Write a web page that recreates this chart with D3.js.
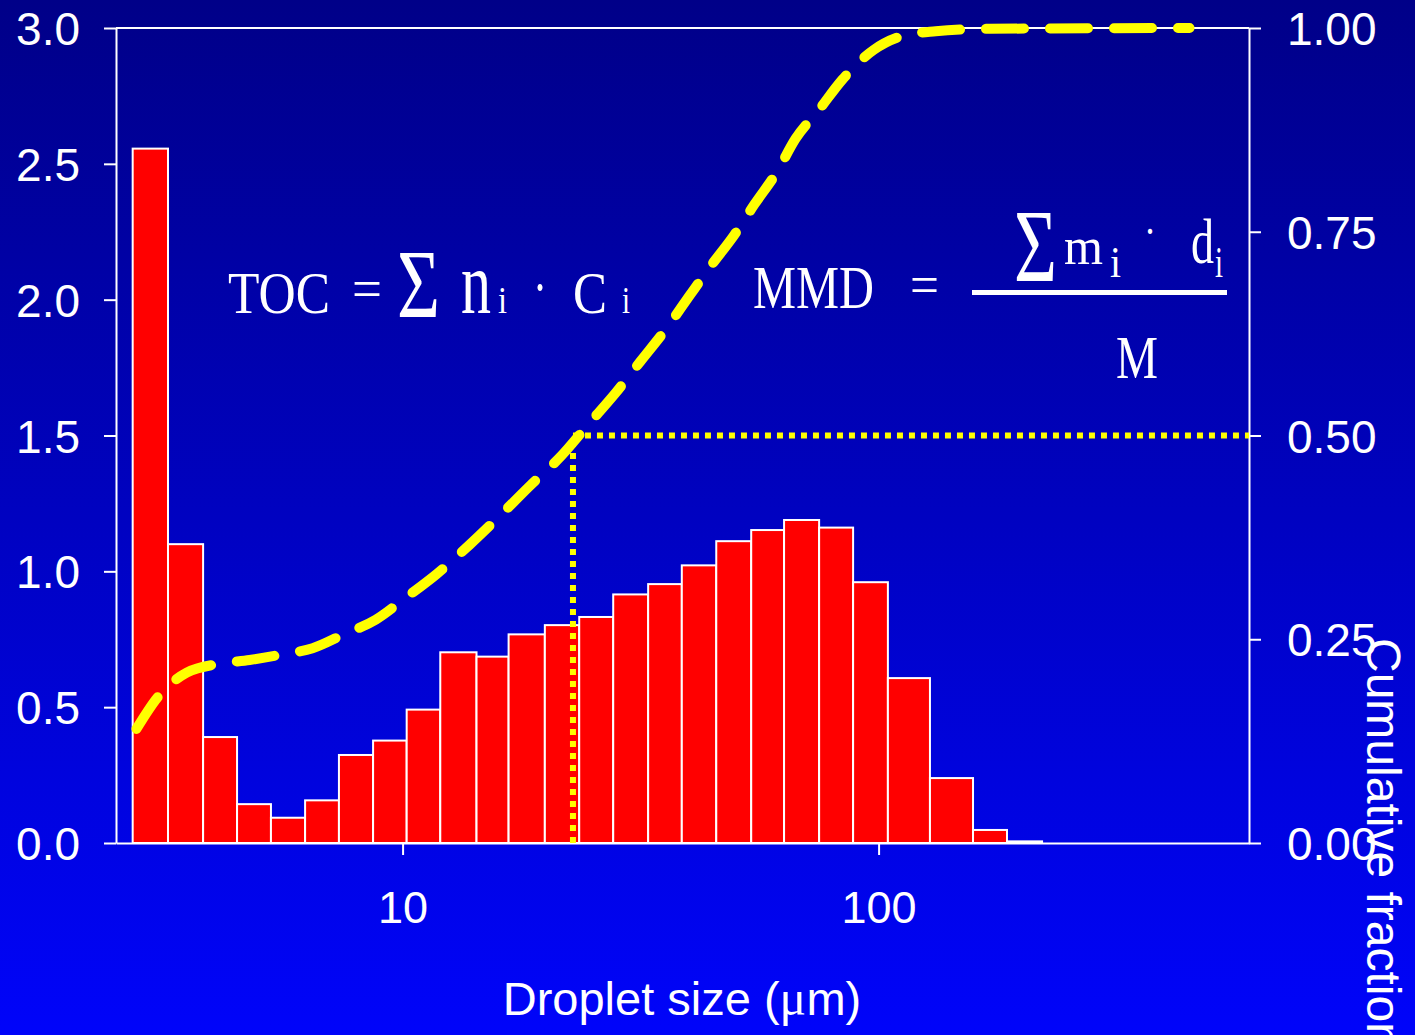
<!DOCTYPE html>
<html>
<head>
<meta charset="utf-8">
<script src="https://cdn.jsdelivr.net/npm/d3@7"></script>
<style>
  html, body { margin: 0; padding: 0; overflow: hidden; background: #0000c0; }
  svg { display: block; }
</style>
</head>
<body>
<svg id="chart" width="1415" height="1035"></svg>
<script>
// Histogram of droplet sizes: bin edges in µm and bar heights
const binEdges = [2.71, 3.215, 3.81, 4.49, 5.29, 6.24, 7.35, 8.67, 10.2, 12.0, 14.3, 16.7, 19.9,
                  23.5, 27.7, 32.8, 38.6, 45.6, 54.0, 63.3, 75.0, 88.4, 104.6, 128.2, 157.9, 186.1, 220.5];
const binHeights = [2.556, 1.10, 0.39, 0.143, 0.093, 0.157, 0.324, 0.377, 0.491, 0.702, 0.686, 0.768, 0.802,
                    0.832, 0.915, 0.953, 1.022, 1.111, 1.152, 1.189, 1.161, 0.960, 0.607, 0.239, 0.048, 0.006];

// Cumulative mass fraction against droplet size
const cumSize = [2.76, 3.06, 3.52, 4.13, 4.77, 5.54, 6.47, 7.52, 8.78, 10.15, 11.79, 13.83, 15.91, 18.57,
                 21.47, 24.59, 28.0, 31.6, 35.9, 39.9, 44.4, 49.6, 54.9, 61.1, 66.9, 74.8, 84.0, 97.6,
                 113.4, 131.8, 171, 450];
const cumFraction = [0.140, 0.179, 0.209, 0.220, 0.2245, 0.231, 0.239, 0.256, 0.274, 0.301, 0.330, 0.366,
                     0.400, 0.439, 0.474, 0.514, 0.552, 0.591, 0.632, 0.670, 0.708, 0.745, 0.784, 0.823,
                     0.864, 0.899, 0.937, 0.973, 0.991, 0.996, 0.999, 1.0];

// Mass median diameter (µm) where the cumulative fraction reaches one half
const mmdSize = 22.8;
const mmdFraction = 0.5;

const leftTicks = [0, 0.5, 1.0, 1.5, 2.0, 2.5, 3.0];
const rightTicks = [0, 0.25, 0.5, 0.75, 1.0];
const xTicks = [10, 100];

const xTitle = "Droplet size (";
const xTitleUnit = "μ";
const xTitleEnd = "m)";
const rightTitle = "Cumulative fraction";

const W = 1415, H = 1035;
const plot = { left: 116, right: 1249, top: 28, bottom: 843 };
const sans = "'Liberation Sans', Arial, Helvetica, sans-serif";
const serif = "'Liberation Serif', 'Times New Roman', Times, serif";

const svg = d3.select("#chart");

// background gradient
const defs = svg.append("defs");
const grad = defs.append("linearGradient").attr("id", "bg")
  .attr("x1", 0).attr("y1", 0).attr("x2", 0).attr("y2", 1);
grad.append("stop").attr("offset", "0%").attr("stop-color", "#000088");
grad.append("stop").attr("offset", "100%").attr("stop-color", "#0004fa");
svg.append("rect").attr("width", W).attr("height", H).attr("fill", "url(#bg)");

const x = d3.scaleLog().domain([2.5, 600]).range([plot.left, plot.right]);
const yL = d3.scaleLinear().domain([0, 3]).range([plot.bottom, plot.top]);
const yR = d3.scaleLinear().domain([0, 1]).range([plot.bottom, plot.top]);

// histogram bars
const bars = binHeights.map((h, i) => ({ x0: binEdges[i], x1: binEdges[i + 1], h }));
svg.append("g").selectAll("rect").data(bars).join("rect")
  .attr("x", d => x(d.x0))
  .attr("y", d => yL(d.h))
  .attr("width", d => x(d.x1) - x(d.x0))
  .attr("height", d => yL(0) - yL(d.h))
  .attr("fill", "#ff0000")
  .attr("stroke", "#ffffff")
  .attr("stroke-width", 2);

// axes
function styleAxis(g) {
  g.selectAll("path.domain").attr("stroke", "#ffffff").attr("stroke-width", 2);
  g.selectAll(".tick line").attr("stroke", "#ffffff").attr("stroke-width", 2);
  g.selectAll(".tick text").attr("fill", "#ffffff")
    .attr("font-family", sans).attr("font-size", 45);
}

const gL = svg.append("g").attr("transform", `translate(${plot.left},0)`)
  .call(d3.axisLeft(yL).tickValues(leftTicks).tickFormat(d3.format(".1f"))
    .tickSize(12).tickSizeOuter(0).tickPadding(24));
styleAxis(gL);
gL.selectAll(".tick text").attr("dy", "0.36em").attr("font-size", 46);

const gR = svg.append("g").attr("transform", `translate(${plot.right},0)`)
  .call(d3.axisRight(yR).tickValues(rightTicks).tickFormat(d3.format(".2f"))
    .tickSize(12).tickSizeOuter(0).tickPadding(26));
styleAxis(gR);
gR.selectAll(".tick text").attr("dy", "0.36em").attr("font-size", 46);

const gB = svg.append("g").attr("transform", `translate(0,${plot.bottom})`)
  .call(d3.axisBottom(x).tickValues(xTicks).tickFormat(d3.format("d"))
    .tickSize(12).tickSizeOuter(0).tickPadding(36));
styleAxis(gB);

// frame line along the top
svg.append("line")
  .attr("x1", plot.left).attr("x2", plot.right)
  .attr("y1", plot.top).attr("y2", plot.top)
  .attr("stroke", "#ffffff").attr("stroke-width", 2);

// axis titles
const xt = svg.append("text")
  .attr("x", 682).attr("y", 1015).attr("text-anchor", "middle")
  .attr("fill", "#ffffff").attr("font-family", sans).attr("font-size", 47);
xt.append("tspan").text(xTitle);
xt.append("tspan").attr("font-family", serif).attr("font-size", 50).text(xTitleUnit);
xt.append("tspan").text(xTitleEnd);

svg.append("text")
  .attr("transform", "translate(1367,638) rotate(90)")
  .attr("fill", "#ffffff").attr("font-family", sans).attr("font-size", 48)
  .text(rightTitle);

// MMD guide lines
const dotted = svg.append("g")
  .attr("stroke", "#ffff00").attr("stroke-width", 6).attr("stroke-dasharray", "6,6").attr("fill", "none");
dotted.append("line")
  .attr("x1", x(mmdSize)).attr("x2", x(mmdSize))
  .attr("y1", plot.bottom).attr("y2", yR(mmdFraction));
dotted.append("line")
  .attr("x1", x(mmdSize)).attr("x2", plot.right)
  .attr("y1", yR(mmdFraction)).attr("y2", yR(mmdFraction));

// cumulative curve
const cum = cumSize.map((d, i) => [d, cumFraction[i]]);
const line = d3.line().x(d => x(d[0])).y(d => yR(d[1])).curve(d3.curveMonotoneX);
svg.append("path")
  .datum(cum)
  .attr("d", line)
  .attr("fill", "none")
  .attr("stroke", "#ffff00")
  .attr("stroke-width", 10)
  .attr("stroke-linecap", "round")
  .attr("stroke-dasharray", "38,26");

// formulas
const fg = svg.append("g").attr("fill", "#ffffff").attr("font-family", serif);
function piece(txt, px, py, size, len) {
  const t = fg.append("text").attr("x", px).attr("y", py).attr("font-size", size).text(txt);
  if (len) t.attr("textLength", len).attr("lengthAdjust", "spacingAndGlyphs");
  return t;
}
// TOC = Σ n_i · C_i
piece("TOC", 228, 313, 60, 102);
piece("=", 352, 308, 56, 30);
piece("Σ", 397, 317, 97, 43);
piece("n", 461, 313, 88, 30);
piece("i", 498, 313, 38, 9);
piece("·", 533, 307, 60, 14);
piece("C", 573, 313, 60, 34);
piece("i", 622, 313, 38, 8);

// MMD = Σ m_i · d_i / M
piece("MMD", 753, 308, 62, 121);
piece("=", 910, 304, 56, 29);
piece("Σ", 1014, 281, 103, 43);
piece("m", 1064, 264, 53, 39);
piece("i", 1110, 277, 44, 11);
piece("·", 1144, 246, 44, 12);
piece("d", 1191, 263, 63, 23);
piece("i", 1215, 277, 44, 8);
piece("M", 1116, 378, 62, 42);
svg.append("line")
  .attr("x1", 972).attr("x2", 1227).attr("y1", 292.5).attr("y2", 292.5)
  .attr("stroke", "#ffffff").attr("stroke-width", 5);
</script>
</body>
</html>
